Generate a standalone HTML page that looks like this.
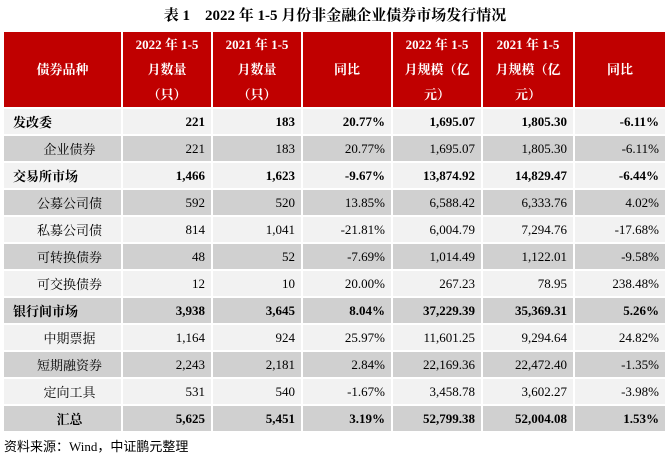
<!DOCTYPE html>
<html><head><meta charset="utf-8"><style>
body{margin:0;width:670px;height:458px;background:#fff;font-family:"Liberation Serif","Noto Serif CJK SC",serif;color:#000;position:relative;overflow:hidden}
.t{position:absolute;top:5px;left:0;width:670px;text-align:center;font-weight:bold;font-size:15px;line-height:22px}
table{position:absolute;left:2px;top:30px;border-collapse:separate;border-spacing:2px;font-size:13px}
td,th{padding:0 6px;height:25px;text-align:right}
th{background:#c00000;color:#fff;font-weight:bold;height:75px;text-align:center;line-height:25px;padding:0}
tr.l td{background:#f2f2f2}tr.g td{background:#d0d0d0}
tr.b td{font-weight:bold}
td.n{text-align:left;padding-left:9px}td.s{text-align:center;padding-left:14px;padding-right:0}
.src{position:absolute;left:4px;top:436px;font-size:13px;font-family:"Liberation Serif","Noto Sans CJK SC",serif}
</style></head><body>
<div class="t">表 1&nbsp;&nbsp;&nbsp;&nbsp;2022 年 1-5 月份非金融企业债券市场发行情况</div>
<table>
<tr><th style="width:117px">债券品种</th><th style="width:88px">2022 年 1-5<br>月数量<br>（只）</th><th style="width:88px">2021 年 1-5<br>月数量<br>（只）</th><th style="width:88px">同比</th><th style="width:88px">2022 年 1-5<br>月规模（亿<br>元）</th><th style="width:90px">2021 年 1-5<br>月规模（亿<br>元）</th><th style="width:90px">同比</th></tr>
<tr class="l b"><td class="n">发改委</td><td>221</td><td>183</td><td>20.77%</td><td>1,695.07</td><td>1,805.30</td><td>-6.11%</td></tr>
<tr class="g"><td class="s">企业债券</td><td>221</td><td>183</td><td>20.77%</td><td>1,695.07</td><td>1,805.30</td><td>-6.11%</td></tr>
<tr class="l b"><td class="n">交易所市场</td><td>1,466</td><td>1,623</td><td>-9.67%</td><td>13,874.92</td><td>14,829.47</td><td>-6.44%</td></tr>
<tr class="g"><td class="s">公募公司债</td><td>592</td><td>520</td><td>13.85%</td><td>6,588.42</td><td>6,333.76</td><td>4.02%</td></tr>
<tr class="l"><td class="s">私募公司债</td><td>814</td><td>1,041</td><td>-21.81%</td><td>6,004.79</td><td>7,294.76</td><td>-17.68%</td></tr>
<tr class="g"><td class="s">可转换债券</td><td>48</td><td>52</td><td>-7.69%</td><td>1,014.49</td><td>1,122.01</td><td>-9.58%</td></tr>
<tr class="l"><td class="s">可交换债券</td><td>12</td><td>10</td><td>20.00%</td><td>267.23</td><td>78.95</td><td>238.48%</td></tr>
<tr class="g b"><td class="n">银行间市场</td><td>3,938</td><td>3,645</td><td>8.04%</td><td>37,229.39</td><td>35,369.31</td><td>5.26%</td></tr>
<tr class="l"><td class="s">中期票据</td><td>1,164</td><td>924</td><td>25.97%</td><td>11,601.25</td><td>9,294.64</td><td>24.82%</td></tr>
<tr class="g"><td class="s">短期融资券</td><td>2,243</td><td>2,181</td><td>2.84%</td><td>22,169.36</td><td>22,472.40</td><td>-1.35%</td></tr>
<tr class="l"><td class="s">定向工具</td><td>531</td><td>540</td><td>-1.67%</td><td>3,458.78</td><td>3,602.27</td><td>-3.98%</td></tr>
<tr class="g b"><td class="s">汇总</td><td>5,625</td><td>5,451</td><td>3.19%</td><td>52,799.38</td><td>52,004.08</td><td>1.53%</td></tr>
</table>
<div class="src">资料来源：Wind，中证鹏元整理</div>
</body></html>
